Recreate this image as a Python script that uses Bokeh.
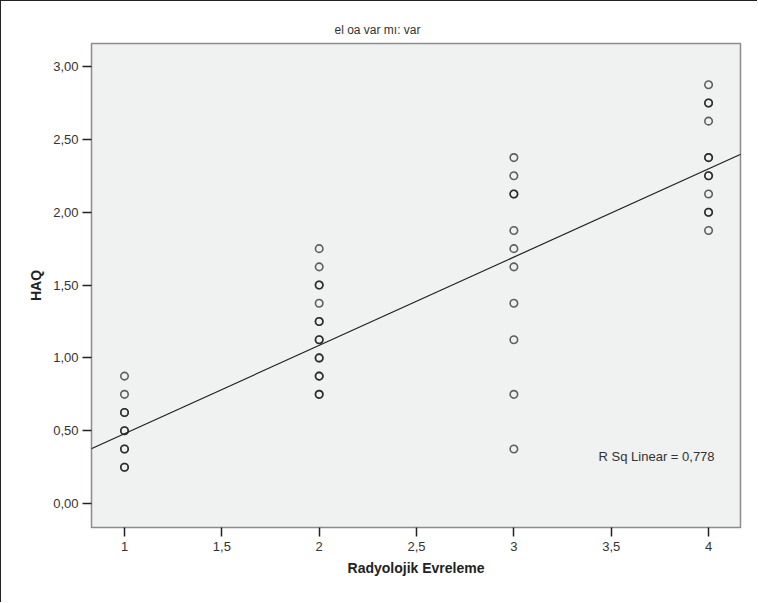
from bokeh.plotting import figure
from bokeh.models import FixedTicker, Slope, Label, Range1d
from bokeh.embed import file_html
from bokeh.resources import INLINE

# Data (overlapping points repeated)
stage_1 = [0.875, 0.75, 0.625, 0.625, 0.5, 0.5, 0.375, 0.375, 0.25, 0.25]
stage_2 = [1.75, 1.625, 1.5, 1.5, 1.375, 1.25, 1.25, 1.125, 1.125, 1.0, 1.0,
           0.875, 0.875, 0.75, 0.75]
stage_3 = [2.375, 2.25, 2.125, 2.125, 1.875, 1.75, 1.625, 1.375, 1.125, 0.75, 0.375]
stage_4 = [2.875, 2.75, 2.75, 2.625, 2.375, 2.375, 2.25, 2.25, 2.125, 2.0, 2.0, 1.875]
stages = [1, 2, 3, 4]

fit_intercept = -0.126
fit_slope = 0.606
r_sq_text = "R Sq Linear = 0,778"

x_ticks = [1, 1.5, 2, 2.5, 3, 3.5, 4]
x_tick_labels = ["1", "1,5", "2", "2,5", "3", "3,5", "4"]
y_ticks = [0, 0.5, 1, 1.5, 2, 2.5, 3]
y_tick_labels = ["0,00", "0,50", "1,00", "1,50", "2,00", "2,50", "3,00"]

xs, ys = [], []
for s, vals in zip(stages, [stage_1, stage_2, stage_3, stage_4]):
    xs += [s] * len(vals)
    ys += vals

FONT = "Liberation Sans"

p = figure(output_backend="svg", toolbar_location=None,
           frame_width=649, frame_height=484,
           min_border_left=90, min_border_right=17,
           min_border_top=42, min_border_bottom=75,
           x_range=Range1d(0.8305, 4.164), y_range=Range1d(-0.164, 3.158),
           title="el oa var mı: var")

p.styles = {"border-left": "1px solid #222", "border-top": "1px solid #222"}

p.title.align = "left"
p.title.offset = 243
p.title.standoff = 13
p.title.text_font = FONT
p.title.text_font_size = "12px"
p.title.text_font_style = "normal"
p.title.text_color = "#333333"

p.background_fill_color = "#f0f1f1"
p.border_fill_color = "white"
p.outline_line_color = "#8c8c8c"
p.outline_line_width = 1.5
p.grid.visible = False

for ax in (p.xaxis, p.yaxis):
    ax.axis_line_color = None
    ax.major_tick_in = 0
    ax.major_tick_out = 9
    ax.major_tick_line_color = "#222222"
    ax.major_tick_line_width = 1.5
    ax.minor_tick_line_color = None
    ax.major_label_text_font = FONT
    ax.major_label_text_font_size = "13px"
    ax.major_label_text_color = "#333333"
    ax.axis_label_text_font = FONT
    ax.axis_label_text_font_size = "14px"
    ax.axis_label_text_font_style = "bold"
    ax.axis_label_text_color = "#222222"

p.xaxis.ticker = FixedTicker(ticks=x_ticks)
p.xaxis.major_label_overrides = dict(zip(x_ticks, x_tick_labels))
p.yaxis.ticker = FixedTicker(ticks=y_ticks)
p.yaxis.major_label_overrides = dict(zip(y_ticks, y_tick_labels))
p.xaxis.axis_label = "Radyolojik Evreleme"
p.yaxis.axis_label = "HAQ"
p.xaxis.major_label_standoff = 5
p.xaxis.axis_label_standoff = 6
p.yaxis.major_label_standoff = 4
p.yaxis.axis_label_standoff = 6

p.add_layout(Slope(gradient=fit_slope, y_intercept=fit_intercept,
                   line_color="#222222", line_width=1.2))

p.scatter(xs, ys, marker="circle", size=7.5, fill_color=None,
          line_color="#111111", line_alpha=0.65, line_width=1.6)

p.add_layout(Label(x=3.435, y=0.322, text=r_sq_text, text_font=FONT,
                   text_font_size="13px", text_color="#333333",
                   text_baseline="middle", text_align="left"))

open("out.html", "w").write(file_html(p, INLINE))
